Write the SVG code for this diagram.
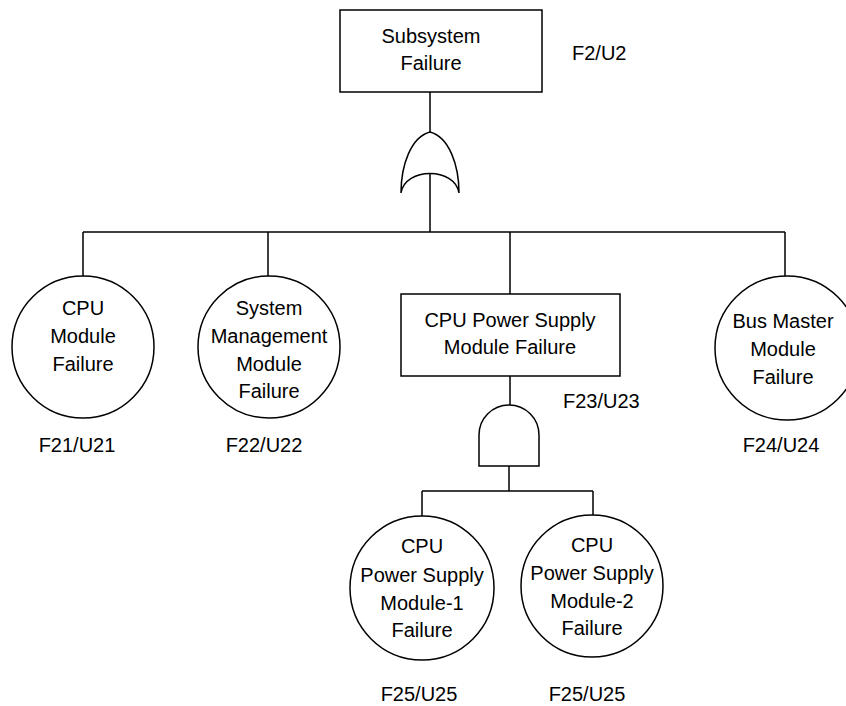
<svg xmlns="http://www.w3.org/2000/svg" width="846" height="706" viewBox="0 0 846 706">
<style>
.s{fill:none;stroke:#000;stroke-width:1.5}
.n{fill:#fff;stroke:#000;stroke-width:1.5}
text{font-family:"Liberation Sans",Arial,sans-serif;font-size:20px;fill:#000;text-anchor:middle}
.l{text-anchor:start}
</style>
<rect width="846" height="706" fill="#fff"/>
<g id="connectors">
<path class="s" d="M430,92V132M430,173V232M83,232H785M83,232V276M268,232V276M510,232V294M785,232V276"/>
<path class="s" d="M510,376V405M509,466V491M422,491H593M422,491V516M593,491V515"/>
</g>
<g id="or-gate">
<path class="s" d="M430,132C411,137 401,165 401,193C405,167 455,167 459,193C459,165 449,137 430,132Z"/>
</g>
<g id="and-gate">
<path class="s" d="M479,466V435A30,30 0 0 1 539,435V466Z"/>
</g>
<g id="top">
<rect class="n" x="340" y="10" width="202" height="82"/>
<text x="431" y="43">Subsystem</text>
<text x="431" y="70">Failure</text>
<text class="l" x="572" y="60">F2/U2</text>
</g>
<g id="cpu">
<circle class="n" cx="83" cy="347" r="71"/>
<text x="83" y="315">CPU</text>
<text x="83" y="343">Module</text>
<text x="83" y="371">Failure</text>
<text x="77" y="452">F21/U21</text>
</g>
<g id="smm">
<circle class="n" cx="269" cy="347" r="71"/>
<text x="269" y="315">System</text>
<text x="269" y="343">Management</text>
<text x="269" y="371">Module</text>
<text x="269" y="398">Failure</text>
<text x="264" y="452">F22/U22</text>
</g>
<g id="cpups">
<rect class="n" x="401" y="294" width="219" height="82"/>
<text x="510" y="327">CPU Power Supply</text>
<text x="510" y="354">Module Failure</text>
<text class="l" x="563" y="408">F23/U23</text>
</g>
<g id="bus">
<circle class="n" cx="787" cy="348" r="72"/>
<text x="783" y="328">Bus Master</text>
<text x="783" y="356">Module</text>
<text x="783" y="384">Failure</text>
<text x="781" y="452">F24/U24</text>
</g>
<g id="ps1">
<circle class="n" cx="422" cy="588" r="72"/>
<text x="422" y="553">CPU</text>
<text x="422" y="582">Power Supply</text>
<text x="422" y="610">Module-1</text>
<text x="422" y="637">Failure</text>
<text x="419" y="701">F25/U25</text>
</g>
<g id="ps2">
<circle class="n" cx="592" cy="586" r="71"/>
<text x="592" y="552">CPU</text>
<text x="592" y="580">Power Supply</text>
<text x="592" y="608">Module-2</text>
<text x="592" y="635">Failure</text>
<text x="587" y="701">F25/U25</text>
</g>
</svg>
